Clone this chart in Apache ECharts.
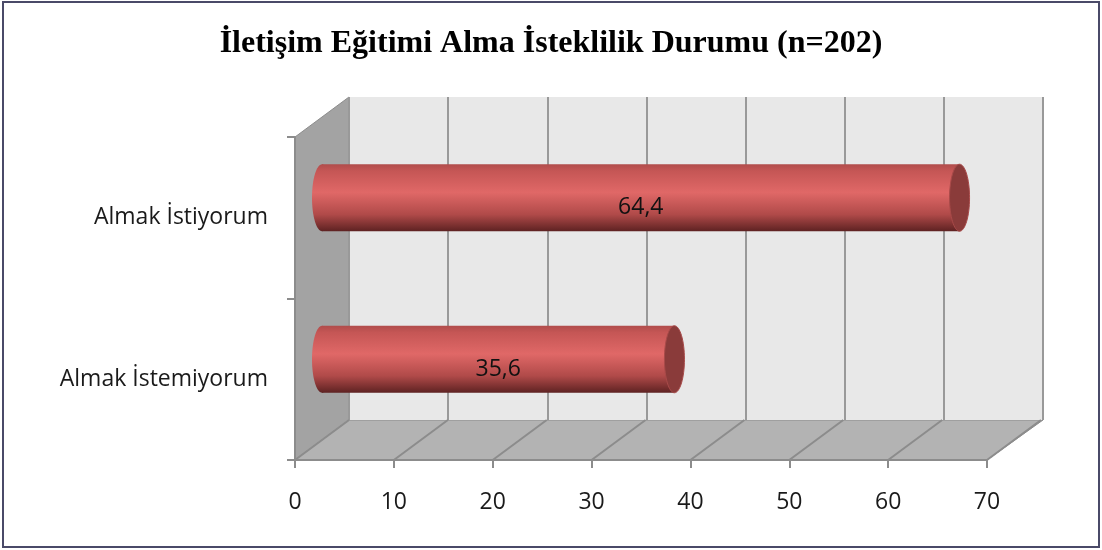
<!DOCTYPE html>
<html>
<head>
<meta charset="utf-8">
<script src="https://cdn.jsdelivr.net/npm/echarts@6/dist/echarts.min.js"></script>
<style>
  html, body { margin: 0; padding: 0; background: #fff; }
  #chart { width: 1102px; height: 550px; }
</style>
</head>
<body>
<div id="chart"></div>
<script>
// kategoriler (alttan yukarı)
var categories = ['Almak İstemiyorum', 'Almak İstiyorum'];
// yüzde değerleri
var values = [35.6, 64.4];
var xTicks = [0, 10, 20, 30, 40, 50, 60, 70];

var DX = 54, DY = -40;   // derinlik kayması (ön -> arka)
var chart = echarts.init(document.getElementById('chart'));

var gridFront = { left: 295, top: 137, width: 692, height: 323 };

var options = {
    backgroundColor: '#fff',
    animation: false,
    title: {
        text: 'İletişim Eğitimi Alma İsteklilik Durumu (n=202)',
        left: 'center',
        top: 23,
        textStyle: {
            fontFamily: 'Liberation Serif',
            fontWeight: 'bold',
            fontSize: 32,
            color: '#000'
        }
    },
    graphic: [
        // dış çerçeve
        { type: 'rect', shape: { x: 3, y: 2, width: 1096, height: 545 },
          style: { fill: 'none', stroke: '#4a4a68', lineWidth: 2 }, z: 100 },
        // sol duvar
        { type: 'polygon', shape: { points: [[295, 137], [349, 97], [349, 420], [295, 460]] },
          style: { fill: '#a3a3a3', stroke: '#8c8c8c', lineWidth: 1 }, z: -1 },
        // zemin
        { type: 'polygon', shape: { points: [[295, 460], [349, 420], [1043, 420], [987, 460]] },
          style: { fill: '#b3b3b3', stroke: '#8c8c8c', lineWidth: 1 }, z: -1 }
    ],
    grid: [
        // arka duvar
        { left: 349, top: 97, width: 694, height: 323, show: true,
          backgroundColor: '#e8e8e8', borderWidth: 0 },
        // ön eksen
        gridFront,
        // çubuk düzlemi (orta derinlik)
        { left: 322, top: 117, width: 693, height: 323 }
    ],
    xAxis: [
        { gridIndex: 0, type: 'value', min: 0, max: 70, interval: 10,
          axisLine: { show: false }, axisTick: { show: false }, axisLabel: { show: false },
          splitLine: { show: true, lineStyle: { color: '#999', width: 2 } } },
        { gridIndex: 1, type: 'value', min: 0, max: 70, interval: 10,
          axisLine: { show: true, lineStyle: { color: '#8c8c8c', width: 2 } },
          axisTick: { show: true, length: 8, lineStyle: { color: '#8c8c8c', width: 2 } },
          axisLabel: { margin: 31, fontFamily: 'Open Sans', fontSize: 23, color: '#1a1a1a' },
          splitLine: { show: false } },
        { gridIndex: 2, type: 'value', min: 0, max: 70, show: false }
    ],
    yAxis: [
        { gridIndex: 0, type: 'category', data: categories, show: false },
        { gridIndex: 1, type: 'category', data: categories,
          axisLine: { show: true, lineStyle: { color: '#8c8c8c', width: 2 } },
          axisTick: { show: true, length: 8, lineStyle: { color: '#8c8c8c', width: 2 } },
          axisLabel: { margin: 27, fontFamily: 'Open Sans', fontSize: 23, color: '#1a1a1a' } },
        { gridIndex: 2, type: 'category', data: categories, show: false }
    ],
    series: [
        {
            // zemin çizgileri
            type: 'custom',
            xAxisIndex: 1, yAxisIndex: 1,
            silent: true, z: 1,
            data: xTicks.map(function (t) { return [t, 0]; }),
            renderItem: function (params, api) {
                var p = api.coord([api.value(0), 0]);
                var y0 = gridFront.top + gridFront.height;
                return {
                    type: 'line',
                    shape: { x1: p[0], y1: y0, x2: p[0] + DX, y2: y0 + DY },
                    style: { stroke: '#8c8c8c', lineWidth: 2 }
                };
            }
        },
        {
            // silindir çubuklar
            type: 'custom',
            xAxisIndex: 2, yAxisIndex: 2,
            z: 5,
            data: values.map(function (v, i) { return [v, i]; }),
            renderItem: function (params, api) {
                var s = api.coord([0, api.value(1)]);
                var e = api.coord([api.value(0), api.value(1)]);
                var h = api.size([0, 1])[1] * 0.415;
                var rx = 10;
                var top = s[1] - h / 2;
                var grad = new echarts.graphic.LinearGradient(0, 0, 0, 1, [
                    { offset: 0, color: '#b04c4b' },
                    { offset: 0.1, color: '#c55655' },
                    { offset: 0.42, color: '#e06867' },
                    { offset: 0.75, color: '#b04a49' },
                    { offset: 1, color: '#5e2222' }
                ]);
                return {
                    type: 'group',
                    children: [
                        { type: 'ellipse', shape: { cx: s[0], cy: s[1], rx: rx, ry: h / 2 },
                          style: { fill: grad } },
                        { type: 'rect', shape: { x: s[0], y: top, width: e[0] - s[0], height: h },
                          style: { fill: grad } },
                        { type: 'ellipse', shape: { cx: e[0], cy: e[1], rx: rx, ry: h / 2 },
                          style: { fill: '#8a3b3a', stroke: '#a84a49', lineWidth: 1 } },
                        { type: 'text', x: (s[0] + e[0]) / 2, y: s[1] + 10,
                          style: { text: String(api.value(0)).replace('.', ','),
                                   fontFamily: 'Open Sans', fontSize: 23, fill: '#111',
                                   align: 'center', verticalAlign: 'middle' } }
                    ]
                };
            }
        }
    ]
};
chart.setOption(options, true);
</script>
</body>
</html>
